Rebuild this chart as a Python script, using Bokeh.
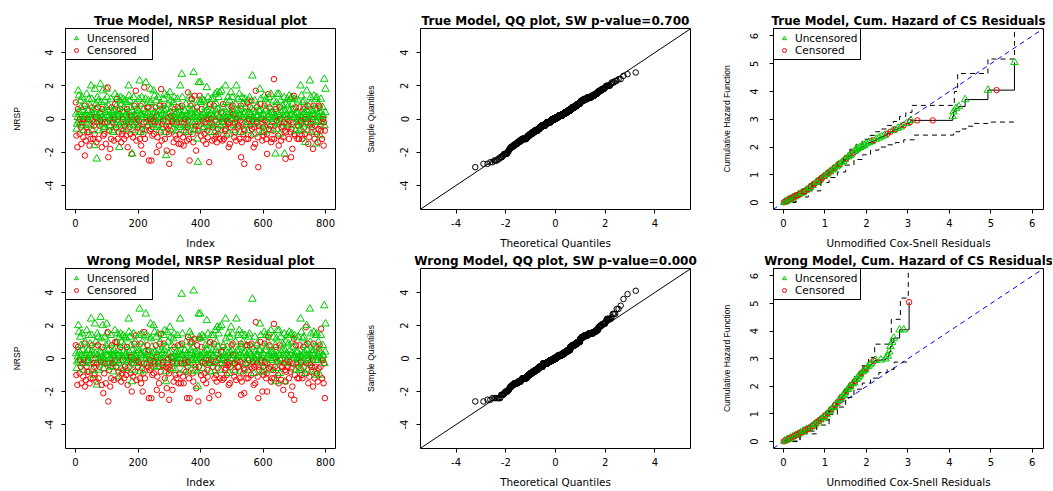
from statistics import NormalDist
from bokeh.plotting import figure
from bokeh.models import ColumnDataSource, Range1d, FixedTicker, Legend, LegendItem, Slope
from bokeh.layouts import column, row
from bokeh.embed import file_html
from bokeh.resources import INLINE

# ---------------- data ----------------
# censoring status per observation index 1..800 (1 = uncensored, 0 = censored)
status_rows = [
    "0101101011 1100110101 1011010100 1101011001",
    "1011011011 1101101001 0110110101 1010110111",
    "0110101101 1010110111 1001011011 0110101101",
    "1101010110 1011011011 1101101101 0101101011",
    "1011010111 1101100100 1110111011 0101011010",
    "1011101010 1101010100 1011110110 1010010101",
    "1001101011 0110110100 1011010110 1100101011",
    "0101101101 1011010100 0110101100 1010110110",
    "1101011010 1101110101 0110101011 1010110100",
    "0101011011 1011010111 0110101101 1101010111",
    "1010110101 1101011011 1001101001 0110110101",
    "1101011010 1011010110 1101101010 1011011011",
    "0110101100 1010110110 1101011010 0110101101",
    "1011010100 1010110100 0110110101 1101011010",
    "1001011010 1011010110 0101001011 1011011010",
    "1011010110 1000110101 0110101101 1101001011",
    "1011011010 1101011010 1011010110 1010110101",
    "1101011010 0110101100 1011010110 1101010111",
    "0110101101 1010110101 1101011011 1011010100",
    "1011010111 1101011010 0110101101 1010011011",
]

# NRSP residuals, true model (in tenths), index 1..800
true_nrsp_tenths = [
    10,3,-10,-6,-3,-17,1,6,17,-1, 14,4,-9,0,11,-2,-5,7,-15,2, 13,-2,5,-4,-11,-7,0,2,8,-22, 9,1,-13,3,-5,15,-3,-8,0,5,
    5,-8,12,-1,-16,2,8,-12,-4,20, 4,12,7,0,-7,-12,2,-2,-4,-16, -9,18,3,1,9,6,-14,-24,-2,13, 2,7,11,-12,-2,-7,-4,0,4,21,
    -1,10,3,-17,1,6,17,-3,-10,-6, 0,-9,11,-2,-5,4,-15,7,2,18, 13,-2,19,5,-23,8,2,-7,-4,0, -18,-4,12,-12,0,7,4,-7,-2,2,
    -8,1,-13,5,0,15,9,-3,3,-5, 8,12,-1,13,-12,2,5,-8,-4,-17, 11,3,6,13,-2,-14,-6,9,-9,1, 0,12,-7,4,7,-12,-2,-4,11,2,
    3,-10,10,-6,6,-3,-17,1,-1,20, 14,4,-5,11,0,-9,2,7,-2,-21, -21,5,-7,-11,0,13,-4,8,2,-2, -8,9,17,1,-13,5,3,0,-3,-5,
    5,-1,12,-4,23,-12,-8,8,2,-16, 3,13,-6,9,-21,1,-9,6,-2,19, -7,-12,4,12,22,0,-2,2,-4,7, 4,-4,11,7,-25,-2,-7,2,0,18,
    10,-6,-25,1,6,-10,3,-1,-3,17, -9,-5,14,-2,4,0,7,11,2,-20, 2,-11,-4,13,-2,5,-16,-7,0,8, 9,1,-8,18,5,-13,3,-3,-5,0,
    -1,12,8,5,15,-12,2,-8,-4,-22, 6,-19,14,-2,-6,9,1,3,-9,-27, -4,16,4,-7,11,2,0,7,-2,-20, -6,-1,10,-14,1,13,6,-3,3,-10,
    -7,0,-12,4,-2,12,-4,7,2,-15, 4,0,-9,7,20,-5,-15,2,-2,27, 8,13,2,-11,0,-16,-7,-2,5,-4, 5,0,9,-8,1,3,-13,-3,-5,16,
    -1,-8,-12,2,-25,14,-4,8,5,12, 3,12,9,-2,-9,6,-14,28,1,-6, 14,-7,-2,-4,4,-19,0,2,7,-12, 4,-26,-7,22,-4,11,14,0,22,2,
    10,-10,1,6,12,-3,-1,-6,-13,3, 11,-5,-9,4,-2,7,0,-15,2,19, 5,-7,-11,13,2,0,8,-26,-2,-4, 9,-8,3,0,12,-3,-13,5,-5,1,
    2,12,8,-4,-12,-8,15,-1,5,-10, 9,-14,16,3,-6,6,-9,13,-2,1, 16,2,-12,-7,-4,4,17,-2,0,-13, 4,9,7,-2,-12,2,0,-7,-4,20,
    -6,10,1,-10,6,-1,3,13,-3,-17, -9,-2,11,-15,0,4,-5,16,2,7, 5,13,8,0,3,-7,-4,-11,2,-2, -8,9,3,-13,20,0,5,-3,-5,1,
    12,-4,5,15,-12,2,-1,-8,8,-23, 6,-14,13,-2,1,9,-9,3,-6,-27, -7,12,4,-2,-4,7,-12,2,10,0, -7,-2,-12,11,0,4,13,7,2,-4,
    3,-10,11,6,-6,26,-3,-1,1,-17, -9,-5,0,11,-15,4,17,-2,2,7, -2,8,-11,2,-29,-4,5,-7,0,18, 5,9,12,-3,0,-8,1,-13,3,-5,
    -8,-10,2,14,8,-4,-1,5,12,-12, 6,-9,-21,-2,9,1,15,13,-6,3, 7,-7,0,-4,15,-14,4,-2,-12,2, 4,0,-7,11,24,-12,2,-4,7,-21,
    1,6,10,-6,-1,15,-3,-10,3,-16, 15,2,7,-9,0,-2,11,-13,4,-5, 0,-4,8,5,-11,2,-2,13,-21,-7, 5,-24,9,-8,-3,3,0,12,-5,1,
    8,-4,-12,14,-1,5,2,-8,12,-23, -6,13,3,-18,9,-2,6,1,14,-9, 12,-10,2,-7,7,4,-2,-4,0,-12, 4,11,-4,0,-12,-7,7,2,-2,20,
    -1,-6,14,-10,1,-12,10,-3,6,3, 11,-5,4,-9,-14,7,0,2,-2,17, 5,-7,8,-2,-15,2,0,-11,-4,23, 9,-3,13,1,-8,5,-5,3,0,-18,
    5,8,14,2,-12,-8,-4,-1,12,-15, 6,13,-9,-2,-14,3,9,-6,1,8, 7,-10,4,-4,12,-7,0,-2,-12,2, 7,0,2,-16,-2,24,-4,-7,4,18,
]

# NRSP residuals, wrong model (in tenths), index 1..800
wrong_nrsp_tenths = [
    8,3,-10,-6,-2,-16,1,7,20,-1, 16,4,-9,-1,13,-1,-5,8,-15,2, 15,-3,5,-3,-11,-7,-1,2,9,-17, 10,1,-13,3,-5,17,-2,-8,-1,5,
    5,-8,14,-1,-15,2,9,-12,-3,24, 4,14,8,0,-7,-12,2,-3,-5,-10, -9,21,3,0,10,7,-14,-16,-3,15, 2,8,13,-12,-1,-7,-5,0,4,25,
    -2,12,3,-16,1,7,20,-2,-21,-6, 0,-9,13,-3,-3,4,-15,8,2,21, 15,-3,16,5,-26,9,2,-7,-3,0, -17,-5,14,-12,0,8,4,-5,-3,2,
    -8,1,-13,5,-1,17,10,-2,3,-5, 9,10,-1,15,-12,2,5,-8,-3,-11, 13,3,7,15,-1,-14,-6,10,-9,1, -1,14,-7,4,8,-12,-1,-5,13,2,
    3,-10,12,-6,7,-2,-16,1,-1,24, 16,4,-5,13,0,-9,1,8,-3,-20, -14,5,-7,-11,0,15,-3,9,2,-1, -8,10,14,1,-13,5,3,-1,-2,-5,
    5,-2,14,-3,30,-12,-8,9,2,-15, 3,15,-6,10,-20,1,-9,7,-3,16, -7,-12,4,14,27,0,-3,2,-3,8, 4,-5,13,5,-24,-1,-7,2,-1,21,
    12,-6,-24,1,7,-10,3,-2,-2,20, -9,-5,16,-3,4,0,8,13,1,-19, 2,-11,-5,15,-3,5,-15,-5,0,9, 10,1,-8,15,5,-22,3,-4,-3,0,
    -2,14,9,5,17,-12,2,-8,-5,-14, 7,-18,16,-1,-6,10,0,3,-9,-25, -5,19,4,-7,13,1,0,8,-3,-19, -6,-2,12,-14,1,15,7,-2,3,-10,
    -7,0,-12,4,-3,14,-3,8,2,-15, 4,0,-9,8,24,-3,-15,2,-3,39, 9,15,2,-11,0,-15,-7,-3,5,-3, 5,-1,10,-8,1,3,-24,-2,-5,13,
    -2,-8,-12,2,-24,16,-3,9,5,14, 3,10,10,-1,-9,7,-14,41,1,-4, 12,-7,-1,-5,4,-18,0,2,8,-8, 4,-17,-26,27,-5,13,12,0,27,2,
    12,-10,1,7,14,-2,-2,-6,-13,3, 13,-3,-9,4,-3,8,0,-15,2,23, 5,-7,-11,15,2,-1,9,-24,-3,-3, 10,-8,3,-1,14,-2,-20,5,-5,1,
    2,14,9,-3,-12,-8,17,-2,5,-10, 10,-14,19,3,-6,7,-22,15,-1,0, 19,2,-12,-7,-3,4,20,-3,0,-13, 4,7,8,-1,-12,2,0,-7,-3,24,
    -6,12,1,-10,7,-2,3,15,-4,-16, -9,-3,13,-15,0,4,-5,19,2,8, 5,15,9,0,2,-7,-3,-11,2,-3, -8,10,3,-13,24,-1,5,-2,-5,1,
    14,-5,5,17,-12,2,-2,-8,9,-22, 7,-14,15,-3,1,10,-9,3,-6,-21, -7,14,4,-3,-3,8,-12,2,8,0, -7,-1,-12,13,-1,4,15,8,2,-5,
    3,-10,9,7,-6,36,-2,-2,1,-16, -9,-5,0,13,-15,4,22,-1,2,8, -3,9,-11,2,-24,-5,5,-7,0,21, 5,10,14,-2,-1,-8,1,-20,3,-5,
    -8,-10,2,16,9,-3,-2,5,14,-12, 7,-9,-20,-3,10,1,13,15,-6,3, 8,-7,0,-5,17,-14,4,-1,-12,2, 4,0,-7,13,21,-12,2,-5,8,-14,
    1,7,12,-6,-2,17,-2,-10,3,-15, 17,2,8,-9,-1,-1,13,-13,4,-5, 0,-5,9,5,-19,2,-3,15,-14,-7, 5,-14,10,-8,-2,3,-1,14,-5,1,
    9,-3,-12,16,-2,5,2,-8,14,-22, -6,15,3,-17,10,-3,7,1,12,-25, 14,-10,2,-7,8,4,-3,-3,0,-12, 4,13,-5,0,-12,-7,8,2,-1,24,
    -2,-6,16,-10,1,-12,12,-2,7,3, 13,-5,4,-9,-9,8,19,2,-3,20, 5,-7,9,-1,-15,2,0,-11,-3,30, 10,-4,15,1,-8,5,-5,3,-1,-17,
    5,9,16,2,-12,-8,-5,-1,14,-10, 7,15,-9,-1,-14,3,10,-6,1,6, 8,-10,4,-5,14,18,0,-1,-12,2, 8,-1,2,-15,-3,32,-3,-24,4,21,
]

# cumulative hazard of Cox-Snell residuals, true model
ch_true_x = [0.01,0.03,0.05,0.07,0.09,0.11,0.14,0.16,0.18,0.21, 0.23,0.26,0.28,0.31,0.34,0.37,0.40,0.43,0.46,0.49,
             0.52,0.55,0.58,0.61,0.64,0.67,0.70,0.73,0.76,0.79, 0.82,0.85,0.88,0.91,0.94,0.97,1.00,1.03,1.06,1.09,
             1.12,1.15,1.18,1.21,1.24,1.27,1.30,1.33,1.36,1.40, 1.44,1.48,1.52,1.56,1.60,1.64,1.68,1.72,1.76,1.80,
             1.85,1.90,1.95,2.00,2.06,2.12,2.18,2.24,2.30,2.37, 2.44,2.51,2.58,2.64,2.70,2.76,2.83,2.90,2.97,3.05,
             3.07,3.23,3.60,4.08,4.10,4.16,4.23,4.38,4.93,5.14, 5.57]
ch_true_h = [0.01,0.02,0.04,0.05,0.07,0.09,0.11,0.13,0.14,0.17, 0.18,0.21,0.22,0.25,0.27,0.30,0.32,0.34,0.37,0.39,
             0.42,0.45,0.48,0.52,0.55,0.59,0.62,0.66,0.69,0.73, 0.76,0.80,0.83,0.87,0.90,0.94,0.97,1.01,1.04,1.08,
             1.11,1.15,1.18,1.22,1.26,1.29,1.33,1.36,1.40,1.44, 1.49,1.55,1.60,1.65,1.70,1.75,1.80,1.86,1.91,1.95,
             1.99,2.03,2.07,2.12,2.16,2.20,2.24,2.29,2.33,2.38, 2.43,2.48,2.55,2.60,2.64,2.68,2.73,2.79,2.85,2.90,
             2.96,2.96,2.96,3.10,3.27,3.39,3.46,3.71,4.05,4.05, 5.05]
ch_true_status = "0101011010 1010010110 0101101001 1010010110 1011011101 1101110111 1111110111 1001011010 1001111110 1"
ub_true_x = [0.0,0.3,0.6,0.9,1.1,1.3,1.45,1.6,1.75,1.9,2.05,2.2,2.35,2.5,2.65,2.8,2.95,3.1,4.12,4.2,4.93,5.57]
ub_true_y = [0.02,0.32,0.64,0.98,1.22,1.48,1.68,1.92,2.1,2.28,2.42,2.55,2.65,2.78,2.92,3.1,3.25,3.5,4.0,4.65,5.17,6.6]
lb_true_x = [0.0,0.3,0.6,0.9,1.1,1.3,1.5,1.7,1.9,2.1,2.3,2.5,2.7,2.9,3.15,4.1,4.25,4.4,4.6,4.93,5.57]
lb_true_y = [0.0,0.2,0.42,0.72,0.9,1.1,1.35,1.55,1.72,1.89,2.0,2.08,2.16,2.26,2.43,2.55,2.65,2.75,2.85,2.9,2.9]

# cumulative hazard of Cox-Snell residuals, wrong model
ch_wrong_x = [0.01,0.03,0.05,0.08,0.11,0.14,0.17,0.20,0.23,0.26, 0.29,0.32,0.35,0.38,0.41,0.44,0.47,0.50,0.53,0.56,
              0.59,0.62,0.65,0.68,0.71,0.74,0.77,0.80,0.83,0.86, 0.89,0.92,0.95,0.98,1.01,1.04,1.07,1.10,1.13,1.16,
              1.19,1.22,1.25,1.28,1.31,1.34,1.37,1.40,1.43,1.46, 1.49,1.52,1.55,1.58,1.61,1.64,1.67,1.70,1.73,1.76,
              1.79,1.82,1.85,1.88,1.91,1.94,1.97,2.00,2.04,2.08, 2.12,2.18,2.22,2.35,2.46,2.52,2.55,2.58,2.62,2.66,
              2.80,2.90,3.03]
ch_wrong_h = [0.01,0.03,0.04,0.06,0.09,0.11,0.13,0.16,0.18,0.20, 0.23,0.25,0.27,0.30,0.32,0.34,0.37,0.39,0.41,0.44,
              0.46,0.48,0.51,0.54,0.57,0.61,0.65,0.69,0.72,0.76, 0.79,0.83,0.86,0.90,0.94,0.98,1.03,1.08,1.13,1.18,
              1.23,1.28,1.33,1.38,1.44,1.50,1.56,1.61,1.66,1.72, 1.78,1.84,1.89,1.95,2.00,2.05,2.10,2.15,2.20,2.26,
              2.31,2.37,2.43,2.48,2.53,2.58,2.62,2.66,2.72,2.78, 2.84,2.92,2.95,2.96,3.00,3.10,3.25,3.45,3.60,3.75,
              4.05,4.05,5.05]
ch_wrong_status = "0101101010 1010101101 0101011010 1011010110 1101011011 1011101101 1110111011 1011111111 110"
ub_wrong_x = [0.0,0.4,0.8,1.1,1.3,1.5,1.7,1.9,2.05,2.2,2.6,2.82,3.01]
ub_wrong_y = [0.02,0.38,0.78,1.18,1.55,1.95,2.35,2.75,3.05,3.53,4.43,5.2,6.6]
lb_wrong_x = [0.0,0.4,0.8,1.1,1.3,1.5,1.7,1.9,2.1,2.3,2.5,2.67,3.01]
lb_wrong_y = [0.0,0.28,0.6,0.98,1.25,1.6,1.9,2.12,2.3,2.5,2.62,2.88,2.88]

titles = ["True Model, NRSP Residual plot", "True Model, QQ plot, SW p-value=0.700",
          "True Model, Cum. Hazard of CS Residuals", "Wrong Model, NRSP Residual plot",
          "Wrong Model, QQ plot, SW p-value=0.000", "Wrong Model, Cum. Hazard of CS Residuals"]
legend_labels = ["Uncensored", "Censored"]

# ---------------- derived ----------------
status = [int(c) for r in status_rows for c in r if c in "01"]
true_nrsp = [v / 10 for v in true_nrsp_tenths]
wrong_nrsp = [v / 10 for v in wrong_nrsp_tenths]
assert len(status) == 800 and len(true_nrsp) == 800 and len(wrong_nrsp) == 800
st_true = [int(c) for c in ch_true_status if c in "01"]
st_wrong = [int(c) for c in ch_wrong_status if c in "01"]
assert len(st_true) == len(ch_true_x) == len(ch_true_h)
assert len(st_wrong) == len(ch_wrong_x) == len(ch_wrong_h)

GREEN = "#00CD00"
RED = "#FF0000"
FONT = "DejaVu Sans"
TRI = 7.5
CIR = 5.5


def make_fig(width, height, left, right, top, bottom, xr, yr, title, tstand, tsize="12px"):
    p = figure(width=width, height=height, x_range=Range1d(*xr), y_range=Range1d(*yr),
               output_backend="svg", toolbar_location=None, tools="",
               min_border_left=left, min_border_right=right,
               min_border_top=top, min_border_bottom=bottom)
    p.title.text = title
    p.title.align = "center"
    p.title.text_font = FONT
    p.title.text_font_size = tsize
    p.title.text_font_style = "bold"
    p.title.text_color = "black"
    p.title.standoff = tstand
    p.outline_line_color = "black"
    p.outline_line_alpha = 1.0
    p.outline_line_width = 1
    p.xgrid.visible = False
    p.ygrid.visible = False
    p.background_fill_color = "white"
    p.border_fill_color = "white"
    return p


def style_axes(p, xticks, yticks, xlabel, ylabel, ytick_st, ylab_st, xlab_st):
    xa = p.xaxis[0]
    ya = p.yaxis[0]
    xa.ticker = FixedTicker(ticks=xticks, minor_ticks=[])
    ya.ticker = FixedTicker(ticks=yticks, minor_ticks=[])
    xa.major_label_overrides = {t: str(t) for t in xticks}
    ya.major_label_overrides = {t: str(t) for t in yticks}
    for ax in (xa, ya):
        ax.axis_line_color = None
        ax.major_tick_in = 0
        ax.major_tick_out = 4
        ax.minor_tick_in = 0
        ax.minor_tick_out = 0
        ax.major_tick_line_color = "black"
        ax.major_label_text_font = FONT
        ax.major_label_text_font_size = "10px"
        ax.major_label_text_color = "black"
        ax.axis_label_text_font_style = "normal"
        ax.axis_label_text_color = "black"
    xa.axis_label = xlabel
    xa.axis_label_text_font = FONT
    xa.axis_label_text_font_size = "10.4px"
    xa.major_label_standoff = 5
    xa.axis_label_standoff = xlab_st
    ya.axis_label = ylabel
    ya.axis_label_text_font = "Liberation Sans"
    ya.axis_label_text_font_size = "8.5px"
    ya.major_label_orientation = "vertical"
    ya.major_label_standoff = ytick_st
    ya.axis_label_standoff = ylab_st


def add_legend(p, r, stat):
    ig = stat.index(1)
    ic = stat.index(0)
    leg = Legend(items=[LegendItem(label=legend_labels[0], renderers=[r], index=ig),
                        LegendItem(label=legend_labels[1], renderers=[r], index=ic)],
                 location="top_left")
    leg.margin = 0
    leg.padding = 3
    leg.spacing = 0
    leg.glyph_width = 14
    leg.glyph_height = 10
    leg.label_height = 10
    leg.label_standoff = 4
    leg.label_text_font = FONT
    leg.label_text_font_size = "10.5px"
    leg.label_text_color = "black"
    leg.border_line_color = "black"
    leg.border_line_width = 1
    leg.border_line_alpha = 1.0
    leg.background_fill_color = "white"
    leg.background_fill_alpha = 1.0
    p.add_layout(leg)


def marker_source(xs, ys, stat):
    return ColumnDataSource(dict(
        x=xs, y=ys,
        marker=["triangle" if s == 1 else "circle" for s in stat],
        color=[GREEN if s == 1 else RED for s in stat],
        size=[TRI if s == 1 else CIR for s in stat]))


def nrsp_panel(vals, title, width, height, left, right, top, bottom, tstand):
    p = make_fig(width, height, left, right, top, bottom, (-32, 832), (-5.45, 5.45), title, tstand)
    idx = list(range(1, len(vals) + 1))
    src = marker_source(idx, vals, status)
    r = p.scatter(x="x", y="y", marker="marker", size="size", line_color="color",
                  fill_color=None, line_width=1, source=src)
    style_axes(p, [0, 200, 400, 600, 800], [-4, -2, 0, 2, 4], "Index", "NRSP", 8, 21, 7)
    add_legend(p, r, status)
    return p


def qq_panel(vals, title, width, height, left, right, top, bottom, tstand):
    p = make_fig(width, height, left, right, top, bottom, (-5.43, 5.43), (-5.45, 5.45), title, tstand)
    n = len(vals)
    nd = NormalDist()
    theo = [nd.inv_cdf((i + 0.5) / n) for i in range(n)]
    samp = sorted(vals)
    p.add_layout(Slope(gradient=1, y_intercept=0, line_color="black", line_width=1))
    p.scatter(theo, samp, marker="circle", size=CIR, line_color="black", fill_color=None, line_width=1)
    style_axes(p, [-4, -2, 0, 2, 4], [-4, -2, 0, 2, 4], "Theoretical Quantiles", "Sample Quantiles",
               8, 22, 7)
    return p


def ch_panel(xs, hs, stat, ubx, uby, lbx, lby, title, width, height, left, right, top, bottom, tstand):
    p = make_fig(width, height, left, right, top, bottom, (-0.24, 6.27), (-0.25, 6.27), title, tstand,
                 tsize="11.8px")
    p.add_layout(Slope(gradient=1, y_intercept=0, line_color="blue", line_width=1,
                       line_dash="5 4", level="underlay"))
    p.step(ubx, uby, mode="after", line_color="black", line_width=1, line_dash="5 4")
    p.step(lbx, lby, mode="after", line_color="black", line_width=1, line_dash="5 4")
    p.step(xs, hs, mode="after", line_color="black", line_width=1)
    src = marker_source(xs, hs, stat)
    r = p.scatter(x="x", y="y", marker="marker", size="size", line_color="color",
                  fill_color=None, line_width=1, source=src)
    style_axes(p, [0, 1, 2, 3, 4, 5, 6], [0, 1, 2, 3, 4, 5, 6],
               "Unmodified Cox-Snell Residuals", "Cumulative Hazard Function", 11, 16, 7)
    add_legend(p, r, stat)
    return p


# row 1: 251 px (top 28, frame 183, bottom 40); row 2: 239 px (top 17, frame 182, bottom 40)
p1 = nrsp_panel(true_nrsp, titles[0], 350, 251, 65, 15, 28, 40, 2)
p2 = qq_panel(true_nrsp, titles[1], 350, 251, 70, 10, 28, 40, 2)
p3 = ch_panel(ch_true_x, ch_true_h, st_true, ub_true_x, ub_true_y, lb_true_x, lb_true_y,
              titles[2], 352, 251, 73, 9, 28, 40, 2)
p4 = nrsp_panel(wrong_nrsp, titles[3], 350, 239, 65, 15, 17, 40, 1)
p5 = qq_panel(wrong_nrsp, titles[4], 350, 239, 70, 10, 17, 40, 1)
p6 = ch_panel(ch_wrong_x, ch_wrong_h, st_wrong, ub_wrong_x, ub_wrong_y, lb_wrong_x, lb_wrong_y,
              titles[5], 352, 239, 73, 9, 17, 40, 1)

layout = column(row(p1, p2, p3), row(p4, p5, p6))
open("out.html", "w").write(file_html(layout, INLINE))
